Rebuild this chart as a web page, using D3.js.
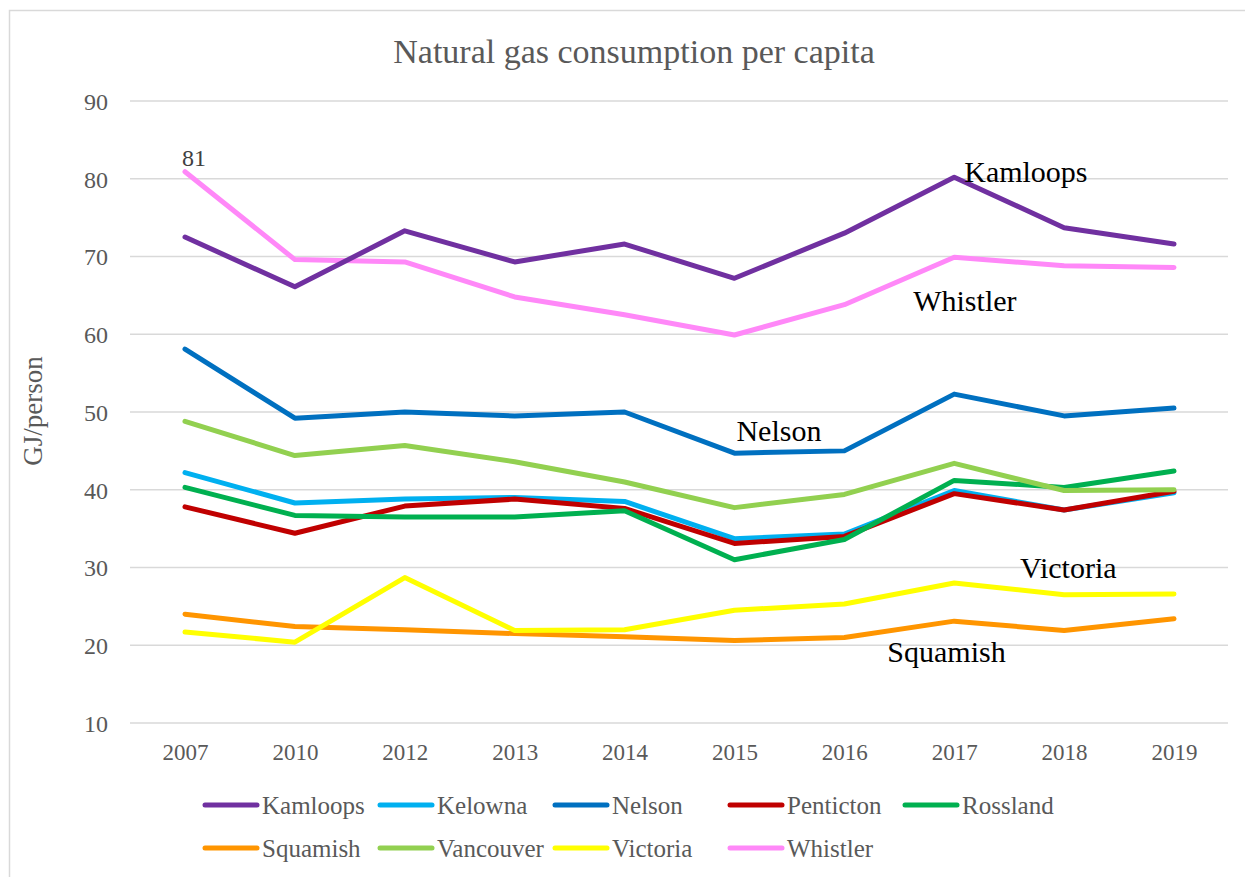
<!DOCTYPE html>
<html>
<head>
<meta charset="utf-8">
<script src="https://cdn.jsdelivr.net/npm/d3@7"></script>
<style>
html,body{margin:0;padding:0;background:#fff;}
svg{display:block;}
text{font-family:"Liberation Serif","DejaVu Serif",serif;}
</style>
</head>
<body>
<svg id="chart" width="1245" height="877"></svg>
<script>
const years = ["2007","2010","2012","2013","2014","2015","2016","2017","2018","2019"];
const yTicks = [10,20,30,40,50,60,70,80,90];

const kamloops  = [72.5,66.1,73.3,69.3,71.6,67.2,73.0,80.2,73.7,71.6];
const kelowna   = [42.2,38.3,38.8,39.0,38.5,33.7,34.3,39.9,37.4,39.6];
const nelson    = [58.1,49.2,50.0,49.5,50.0,44.7,45.0,52.3,49.5,50.5];
const penticton = [37.8,34.4,37.9,38.8,37.6,33.1,34.0,39.5,37.4,39.8];
const rossland  = [40.3,36.7,36.5,36.5,37.3,31.0,33.6,41.2,40.3,42.4];
const squamish  = [24.0,22.4,22.0,21.5,21.1,20.6,21.0,23.1,21.9,23.4];
const vancouver = [48.8,44.4,45.7,43.6,41.0,37.7,39.4,43.4,39.9,40.0];
const victoria  = [21.7,20.4,28.7,21.9,22.0,24.5,25.3,28.0,26.5,26.6];
const whistler  = [80.9,69.6,69.3,64.8,62.5,59.9,63.8,69.9,68.8,68.6];

const seriesNames  = ["Kamloops","Kelowna","Nelson","Penticton","Rossland","Squamish","Vancouver","Victoria","Whistler"];
const seriesValues = [kamloops,kelowna,nelson,penticton,rossland,squamish,vancouver,victoria,whistler];
const seriesColors = ["#7030A0","#00B0F0","#0070C0","#C00000","#00B050","#FF9500","#92D050","#FFFF00","#FF88F8"];
const drawOrder = [8,0,1,3,4,2,6,5,7];

const annotations = [
  {text:"Kamloops", year:"2017", value:79.6, dx:10},
  {text:"Whistler", year:"2017", value:63.0, dx:-41},
  {text:"Nelson",   year:"2015", value:46.3, dx:2},
  {text:"Victoria", year:"2018", value:28.65, dx:-44},
  {text:"Squamish", year:"2016", value:17.8, dx:43}
];

const svg = d3.select("#chart");
const W = 1245, H = 877;

// outer frame
svg.append("rect").attr("x",9.5).attr("y",10.5).attr("width",W+20).attr("height",H+20)
  .attr("fill","#fff").attr("stroke","#d9d9d9").attr("stroke-width",1.5);

const x = d3.scalePoint().domain(years).range([185,1174]);
const y = d3.scaleLinear().domain([10,90]).range([723,101]);
const gridLeft = 130, gridRight = 1228;

// gridlines
svg.append("g").selectAll("line").data(yTicks).join("line")
  .attr("x1",gridLeft).attr("x2",gridRight)
  .attr("y1",d=>y(d)).attr("y2",d=>y(d))
  .attr("stroke","#d9d9d9").attr("stroke-width",1.5);

// y axis labels
const yAxis = d3.axisLeft(y).tickValues(yTicks).tickSize(0).tickPadding(0);
const gy = svg.append("g").attr("transform","translate(108,0)").call(yAxis);
gy.select(".domain").remove();
gy.selectAll("text").attr("fill","#595959").style("font-size","24px")
  .style("font-family","Liberation Serif").attr("dy","0.35em");

// x axis labels
const xAxis = d3.axisBottom(x).tickSize(0).tickPadding(0);
const gx = svg.append("g").attr("transform","translate(0,752)").call(xAxis);
gx.select(".domain").remove();
gx.selectAll("text").attr("fill","#595959").style("font-size","23px")
  .style("font-family","Liberation Serif").attr("dy","0.35em");

// y axis title
svg.append("text").attr("transform","translate(42,411) rotate(-90)")
  .attr("text-anchor","middle").attr("fill","#595959")
  .style("font-size","27px").text("GJ/person");

// title
svg.append("text").attr("x",634).attr("y",63).attr("text-anchor","middle")
  .attr("fill","#595959").style("font-size","34px")
  .text("Natural gas consumption per capita");

// lines
const line = d3.line().x((d,i)=>x(years[i])).y(d=>y(d));
svg.append("g").selectAll("path").data(drawOrder).join("path")
  .attr("d",i=>line(seriesValues[i]))
  .attr("fill","none").attr("stroke",i=>seriesColors[i])
  .attr("stroke-width",5).attr("stroke-linecap","round").attr("stroke-linejoin","round");

// data label 81
svg.append("text").attr("x",x("2007")+9).attr("y",y(whistler[0])-6)
  .attr("text-anchor","middle").attr("fill","#404040").style("font-size","24px")
  .text(Math.round(whistler[0]));

// annotations
svg.append("g").selectAll("text").data(annotations).join("text")
  .attr("x",d=>x(d.year)+d.dx).attr("y",d=>y(d.value))
  .attr("fill","#000").style("font-size","30px").text(d=>d.text);

// legend
const legend = svg.append("g");
seriesNames.forEach((name,i)=>{
  const col = i % 5, row = Math.floor(i/5);
  const lx = 205 + col*175, ly = 805 + row*43;
  legend.append("line").attr("x1",lx).attr("x2",lx+52).attr("y1",ly).attr("y2",ly)
    .attr("stroke",seriesColors[i]).attr("stroke-width",5).attr("stroke-linecap","round");
  legend.append("text").attr("x",lx+57).attr("y",ly).attr("dy","0.35em")
    .attr("fill","#595959").style("font-size","25px").text(name);
});
</script>
</body>
</html>
